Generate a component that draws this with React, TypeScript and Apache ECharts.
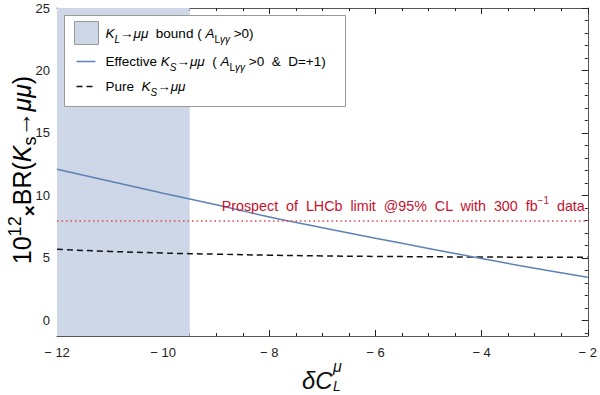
import React, { useEffect, useRef } from "react";
import * as echarts from "echarts";

const xValues = [-12, -11, -10, -9, -8, -7, -6, -5, -4, -3, -2];
const effectiveKs = [12.1, 11.13, 10.18, 9.25, 8.28, 7.42, 6.58, 5.76, 4.95, 4.17, 3.45];
const pureKs = [5.69, 5.52, 5.39, 5.3, 5.22, 5.16, 5.12, 5.09, 5.07, 5.06, 5.06];
const klBound = [-12, -9.5];
const lhcbLimit = 8;
const yMajorTicks = [0, 5, 10, 15, 20, 25];
const yMinorTicks = Array.from({ length: 27 }, (_, i) => i - 1);

const FONT = "'Liberation Sans', Arial, sans-serif";
const FRAME = "#555";

const richBase = (size: number, color: string) => ({
  n: { fontSize: size, fontFamily: FONT, color, lineHeight: size + 8 },
  i: { fontSize: size, fontFamily: FONT, color, fontStyle: "italic", lineHeight: size + 8 },
  sub: { fontSize: Math.round(size * 0.72), fontFamily: FONT, color, verticalAlign: "bottom", lineHeight: size + 8 },
  subi: { fontSize: Math.round(size * 0.72), fontFamily: FONT, color, fontStyle: "italic", verticalAlign: "bottom", lineHeight: size + 8 },
  sup: { fontSize: Math.round(size * 0.72), fontFamily: FONT, color, verticalAlign: "top", lineHeight: size + 8 },
});

export default function App() {
  const ref = useRef<HTMLDivElement>(null);
  useEffect(() => {
    document.body.style.margin = "0";
    const chart = echarts.init(ref.current!, null, { renderer: "svg" });
    const fmt = (v: number) => (v < 0 ? "\u2212 " + Math.abs(v) : String(v));
    const commonX = {
      type: "value",
      min: -12,
      max: -2,
      interval: 2,
      axisLine: { show: true, onZero: false, lineStyle: { color: FRAME, width: 1 } },
      axisTick: { show: true, inside: true, length: 6, lineStyle: { color: "#222" } },
      minorTick: { show: true, splitNumber: 4, length: 3, lineStyle: { color: "#222" } },
      splitLine: { show: false },
    };
    const yBase = {
      type: "value",
      min: -1.25,
      max: 25,
      splitLine: { show: false },
      axisLine: { show: false },
    };
    const yTickAxis = (pos: string, values: number[], len: number, labels: boolean, line: boolean) => ({
      ...yBase,
      position: pos,
      axisLine: { show: line, onZero: false, lineStyle: { color: FRAME, width: 1 } },
      axisTick: { show: true, inside: true, length: len, customValues: values, lineStyle: { color: "#222" } },
      axisLabel: labels
        ? { show: true, customValues: yMajorTicks, fontSize: 13, fontFamily: FONT, color: "#222", margin: 7 }
        : { show: false },
    });

    const option: any = {
      animation: false,
      grid: { left: 57, right: 10, top: 8, bottom: 59 },
      xAxis: [
        {
          ...commonX,
          position: "bottom",
          axisLabel: { fontSize: 13, fontFamily: FONT, color: "#222", margin: 10, formatter: fmt },
        },
        { ...commonX, position: "top", axisLabel: { show: false } },
      ],
      yAxis: [
        yTickAxis("left", yMajorTicks, 6, true, true),
        yTickAxis("left", yMinorTicks, 3, false, false),
        yTickAxis("right", yMajorTicks, 6, false, true),
        yTickAxis("right", yMinorTicks, 3, false, false),
      ],
      series: [
        {
          type: "line",
          name: "effective",
          data: xValues.map((x, i) => [x, effectiveKs[i]]),
          showSymbol: false,
          smooth: true,
          lineStyle: { color: "#5e81b5", width: 1.5 },
          z: 4,
          markArea: {
            silent: true,
            itemStyle: { color: "#cdd7e8", opacity: 1 },
            data: [[{ xAxis: klBound[0] }, { xAxis: klBound[1] }]],
          },
        },
        {
          type: "line",
          name: "pure",
          data: xValues.map((x, i) => [x, pureKs[i]]),
          showSymbol: false,
          smooth: true,
          lineStyle: { color: "#111", width: 1.5, type: [6, 4] },
          z: 3,
          markLine: {
            silent: true,
            symbol: "none",
            lineStyle: { color: "#e8454a", width: 1.5, type: [1.5, 3] },
            data: [{ yAxis: lhcbLimit }],
            label: {
              show: true,
              position: "insideEndTop",
              distance: [3, 3],
              formatter: "{n|Prospect  of  LHCb  limit  @95%  CL  with  300  fb}{sup|\u22121}{n|  data}",
              rich: richBase(14.3, "#c8102e"),
            },
          },
        },
      ],
      graphic: [
        {
          type: "group",
          left: 64,
          top: 15,
          z: 100,
          children: [
            {
              type: "rect",
              z: 100,
              shape: { x: 0, y: 0, width: 281, height: 91 },
              style: { fill: "#fff", stroke: "#999", lineWidth: 1 },
            },
            {
              type: "rect",
              z: 101,
              shape: { x: 10, y: 6, width: 24, height: 23 },
              style: { fill: "#cdd7e8", stroke: "#999", lineWidth: 1 },
            },
            {
              type: "text",
              z: 101,
              x: 41,
              y: 18,
              style: {
                text: "{i|K}{subi|L}{n|\u2192}{i|\u03bc\u03bc}{n|  bound ( }{i|A}{sub|L}{subi|\u03b3\u03b3}{n| >0)}",
                rich: richBase(13.5, "#222"),
                verticalAlign: "middle",
              },
            },
            {
              type: "line",
              z: 101,
              shape: { x1: 12, y1: 46, x2: 31, y2: 46 },
              style: { stroke: "#5e81b5", lineWidth: 1.5 },
            },
            {
              type: "text",
              z: 101,
              x: 41,
              y: 46,
              style: {
                text: "{n|Effective }{i|K}{subi|S}{n|\u2192}{i|\u03bc\u03bc}{n|  ( }{i|A}{sub|L}{subi|\u03b3\u03b3}{n| >0  &  D=+1)}",
                rich: richBase(13.5, "#222"),
                verticalAlign: "middle",
              },
            },
            {
              type: "line",
              z: 101,
              shape: { x1: 12, y1: 71, x2: 31, y2: 71 },
              style: { stroke: "#111", lineWidth: 1.5, lineDash: [6, 4] },
            },
            {
              type: "text",
              z: 101,
              x: 41,
              y: 71,
              style: {
                text: "{n|Pure  }{i|K}{subi|S}{n|\u2192}{i|\u03bc\u03bc}",
                rich: richBase(13.5, "#222"),
                verticalAlign: "middle",
              },
            },
          ],
        },
        {
          type: "text",
          x: 22,
          y: 170,
          rotation: Math.PI / 2,
          style: {
            text: "{n|10}{sup|12}{b|\u00d7}{n|BR(}{i|K}{sub|s}{n|\u2192}{i|\u03bc\u03bc}{n|)}",
            rich: {
              ...richBase(25, "#111"),
              b: { fontSize: 19, fontFamily: FONT, color: "#111", fontWeight: "bold", verticalAlign: "bottom", lineHeight: 33 },
            },
            align: "center",
            verticalAlign: "middle",
          },
        },
        {
          type: "text",
          x: 302,
          y: 380,
          style: {
            text: "\u03b4C",
            font: "italic 24px " + FONT,
            fill: "#111",
            align: "left",
            verticalAlign: "middle",
          },
        },
        {
          type: "text",
          x: 333,
          y: 366,
          style: { text: "\u03bc", font: "italic 16px " + FONT, fill: "#111", align: "left", verticalAlign: "middle" },
        },
        {
          type: "text",
          x: 333,
          y: 386,
          style: { text: "L", font: "italic 14px " + FONT, fill: "#111", align: "left", verticalAlign: "middle" },
        },
      ],
    };
    chart.setOption(option);
    return () => chart.dispose();
  }, []);
  return <div ref={ref} style={{ width: 600, height: 395 }} />;
}
